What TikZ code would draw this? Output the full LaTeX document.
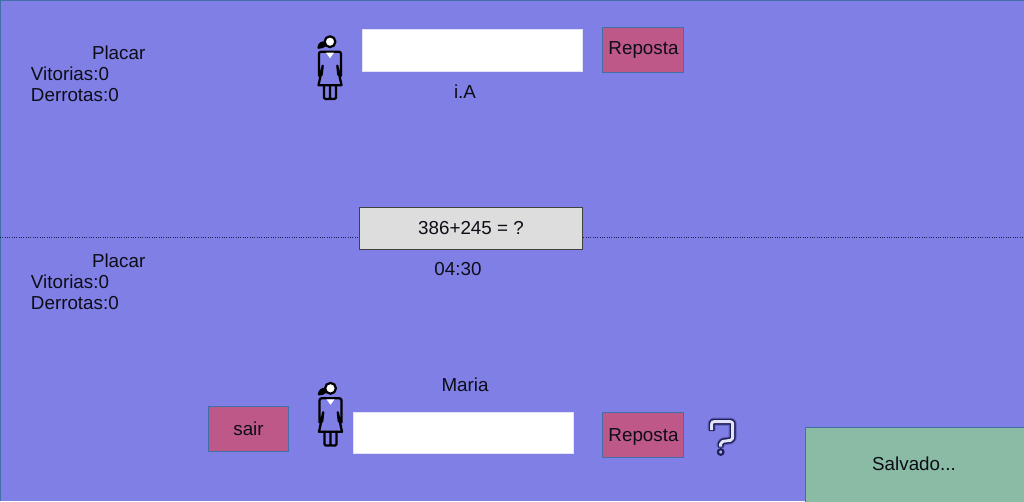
\documentclass[tikz,border=0pt]{standalone}
\usepackage{fontspec}
\setmainfont{Liberation Sans}
\definecolor{bgc}{RGB}{127,127,229}
\definecolor{edgec}{RGB}{64,112,170}
\definecolor{btnc}{RGB}{190,88,136}
\definecolor{greenc}{RGB}{138,187,165}
\definecolor{qc}{RGB}{221,221,221}
\definecolor{whiteedge}{RGB}{226,226,248}
\definecolor{navy}{RGB}{30,30,90}
\tikzset{
  label text/.style={inner sep=0pt,outer sep=0pt,font=\fontsize{14.1}{16}\selectfont,text=black!90!bgc},
  left text/.style={label text,anchor=base west},
  mid text/.style={label text,anchor=base},
  boxshape/.style={draw,line width=0.75pt,inner sep=0pt,outer sep=0pt,anchor=north west},
  button/.style={boxshape,draw=edgec,fill=btnc},
  inputbox/.style={boxshape,draw=whiteedge,fill=white},
  questionbox/.style={boxshape,draw=black!75,fill=qc},
  savedbox/.style={boxshape,draw=edgec,fill=greenc},
  figline/.style={draw=black,line width=1.7pt,line join=round,line cap=round},
  helpline/.style={line join=round,rounded corners=1.5pt}
}
\newcommand{\womanfig}[2]{%
  \begin{scope}[shift={(#1,#2)}]
    % ponytail
    \path[figline,fill=black] (-5,1) .. controls (-8,0) and (-11,2) .. (-11.5,6) .. controls (-9,6) and (-6,5) .. (-4,3);
    % head
    \path[figline,fill=white] (0,0) circle (5.4);
    % dress
    \path[figline] (-9,10) -- (9,10) .. controls (10,10) and (11,11) .. (11,12) -- (11,34) -- (8.3,33) -- (7.3,24) -- (11.5,43.5) -- (-11.5,43.5) -- (-7.3,24) -- (-8.3,33) -- (-11,34) -- (-11,12) .. controls (-11,11) and (-10,10) .. (-9,10) -- cycle;
    % collar
    \fill[white] (-4,11) -- (4,11) -- (0,16.5) -- cycle;
    % legs
    \path[figline] (-6,43.5) -- (-6,56) .. controls (-6,57) and (-5.5,57.3) .. (-4.5,57.3) -- (-1,57.3) -- (0,56) -- (0,43.5);
    \path[figline] (0,56) -- (1,57.3) -- (4.5,57.3) .. controls (5.5,57.3) and (6,57) .. (6,56) -- (6,43.5);
  \end{scope}}
\begin{document}
\begin{tikzpicture}[x=0.75pt,y=-0.75pt]
\useasboundingbox (0,0) rectangle (1024,501);
\fill[bgc] (0,0) rectangle (1024,501);
\draw[edgec,line width=1pt] (0.5,501) -- (0.5,0.5) -- (1024,0.5);

% divider
\coordinate (divL) at (0,237.5);
\coordinate (divR) at (1024,237.5);
\draw[navy,line width=0.75pt,densely dotted] (divL) -- (divR);

% upper score
\node[left text] (placarA) at (92,59.5) {Placar};
\node[left text] (vitA) at (31,80.5) {Vitorias:0};
\node[left text] (derA) at (31,101.5) {Derrotas:0};

% lower score
\node[left text] (placarB) at (92,267.5) {Placar};
\node[left text] (vitB) at (31,288.5) {Vitorias:0};
\node[left text] (derB) at (31,309.5) {Derrotas:0};

% figures
\womanfig{330}{41.7}
\womanfig{330.5}{388.3}

% upper row
\node[inputbox,minimum width=165pt,minimum height=31.5pt] (inA) at (362,29.5) {};
\node[button,minimum width=60.75pt,minimum height=33.75pt] (btnA) at (602.5,27) {};
\node[mid text] at (643.5,54.5) {Reposta};
\node[mid text] (ia) at (465,98.5) {i.A};

% question
\node[questionbox,minimum width=167.25pt,minimum height=31pt] (question) at (359.5,207.7) {};
\node[mid text] at (471,234.5) {386+245 = ?};
\node[mid text] (clock) at (458,275.5) {04:30};

% lower row
\node[mid text] (maria) at (465,391.5) {Maria};
\node[button,minimum width=60.2pt,minimum height=33.75pt] (sair) at (208,406) {};
\node[mid text] at (248.5,435.5) {sair};
\node[inputbox,minimum width=165pt,minimum height=31pt] (inB) at (353,412.5) {};
\node[button,minimum width=60.75pt,minimum height=33.75pt] (btnB) at (602.5,412.5) {};
\node[mid text] at (643.5,441.5) {Reposta};

% help icon
\draw[navy,opacity=.35,line width=6pt,helpline] (711.7,430) -- (711.7,421.7) -- (732.7,421.7) -- (732.7,440) -- (720.7,441.7) -- (720.7,446.7);
\draw[navy,line width=4.4pt,helpline] (711.7,431) -- (711.7,421.7) -- (732.7,421.7) -- (732.7,440) -- (720.7,441.7) -- (720.7,447.5);
\draw[navy,fill=bgc!60,line width=1.6pt] (720.7,452) circle (2.8);
\draw[whiteedge,line width=2.2pt,helpline] (711.7,430) -- (711.7,421.7) -- (732.7,421.7) -- (732.7,440) -- (720.7,441.7) -- (720.7,446.7);

% saved
\node[savedbox,minimum width=166pt,minimum height=58pt] (saved) at (805,427.5) {};
\node[mid text] at (914,470.5) {Salvado...};
\end{tikzpicture}
\end{document}
